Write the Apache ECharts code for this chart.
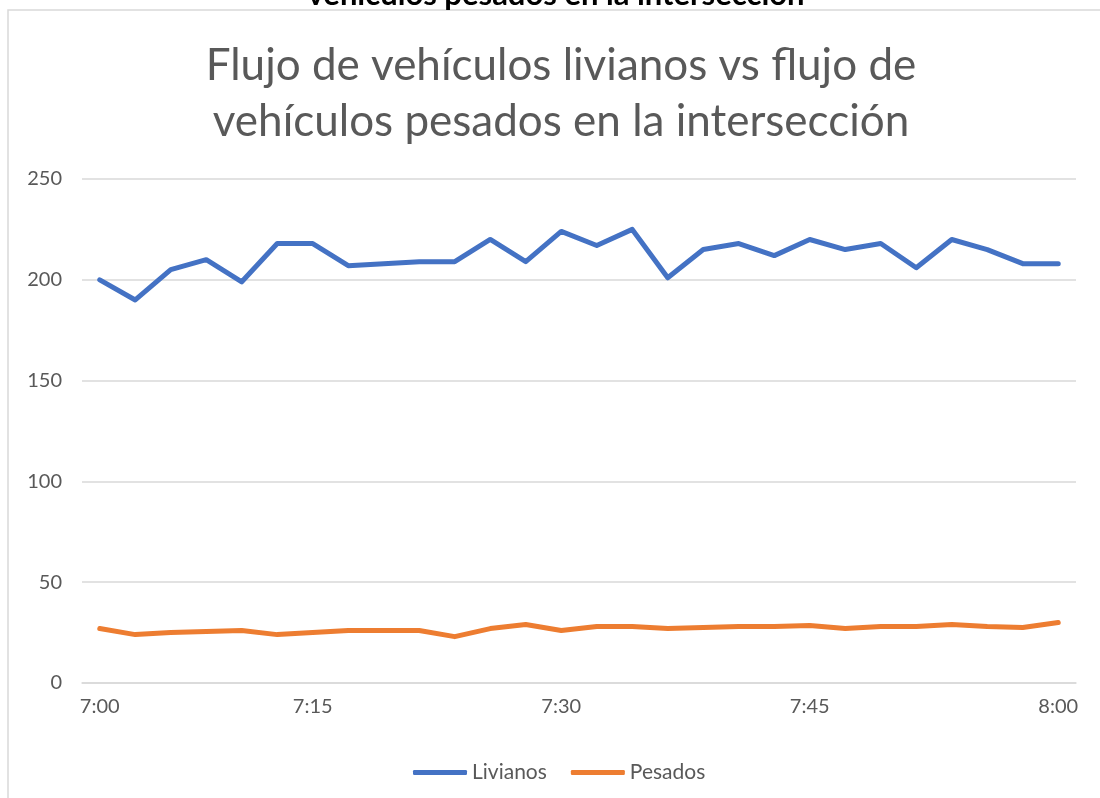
<!DOCTYPE html>
<html>
<head>
<meta charset="utf-8">
<script src="https://cdn.jsdelivr.net/npm/echarts@6/dist/echarts.min.js"></script>
<style>
html,body{margin:0;padding:0;background:#fff;}
#main{width:1100px;height:798px;}
</style>
</head>
<body>
<div id="main"></div>
<script>
// Category times (28 readings between 7:00 and 8:00)
const categories = ['7:00','7:02','7:05','7:07','7:10','7:12','7:15','7:17','7:19','7:21','7:24','7:26','7:28','7:30',
  '7:32','7:34','7:37','7:39','7:41','7:43','7:45','7:47','7:50','7:52','7:54','7:56','7:58','8:00'];
const shownLabels = ['7:00','7:15','7:30','7:45','8:00'];
const livianos = [200,190,205,210,199,218,218,207,208,209,209,220,209,224,217,225,201,215,218,212,220,215,218,206,220,215,208,208];
const pesados  = [27,24,25,25.5,26,24,25,26,26,26,23,27,29,26,28,28,27,27.5,28,28,28.5,27,28,28,29,28,27.5,30];
const seriesNames = ['Livianos','Pesados'];
const titleText = 'Flujo de vehículos livianos vs flujo de\nvehículos pesados en la intersección';
const cutTitle = 'vehículos pesados en la intersección';

const chart = echarts.init(document.getElementById('main'), null, {renderer:'canvas'});
const FONT = 'Lato, "Open Sans", sans-serif';
chart.setOption({
  backgroundColor:'#ffffff',
  animation:false,
  title:{
    text:titleText,
    left:556, top:33, textAlign:'center',
    textStyle:{fontFamily:FONT, fontSize:44, fontWeight:'normal', color:'#595959', lineHeight:56}
  },
  graphic:[
    {type:'rect', shape:{x:8, y:10, width:1110, height:800}, style:{fill:'none', stroke:'#d9d9d9', lineWidth:1.5}, silent:true},
    {type:'text', x:556, y:-21, style:{text:cutTitle, font:'bold 31px Lato, sans-serif', fill:'#000', align:'center', verticalAlign:'top'}}
  ],
  legend:{
    data:seriesNames,
    left:408, top:757,
    icon:'roundRect', itemWidth:54, itemHeight:5, itemGap:24,
    textStyle:{fontFamily:FONT, fontSize:21, color:'#595959'}
  },
  grid:{left:82, top:179, width:994, height:504, containLabel:false},
  xAxis:{
    type:'category', data:categories, boundaryGap:true,
    axisLine:{lineStyle:{color:'#d9d9d9', width:1.5}},
    axisTick:{show:false},
    axisLabel:{
      interval:(i, v)=>shownLabels.indexOf(v) >= 0,
      fontFamily:FONT, fontSize:20, color:'#595959', margin:14
    }
  },
  yAxis:{
    type:'value', min:0, max:250, interval:50,
    axisLine:{show:false}, axisTick:{show:false},
    splitLine:{lineStyle:{color:'#d9d9d9', width:1.5}},
    axisLabel:{fontFamily:FONT, fontSize:20, color:'#595959', margin:20}
  },
  series:[
    {name:seriesNames[0], type:'line', data:livianos, symbol:'none', color:'#4472C4',
     lineStyle:{width:5, color:'#4472C4', cap:'round', join:'round'}},
    {name:seriesNames[1], type:'line', data:pesados, symbol:'none', color:'#ED7D31',
     lineStyle:{width:5, color:'#ED7D31', cap:'round', join:'round'}}
  ]
});
</script>
</body>
</html>
